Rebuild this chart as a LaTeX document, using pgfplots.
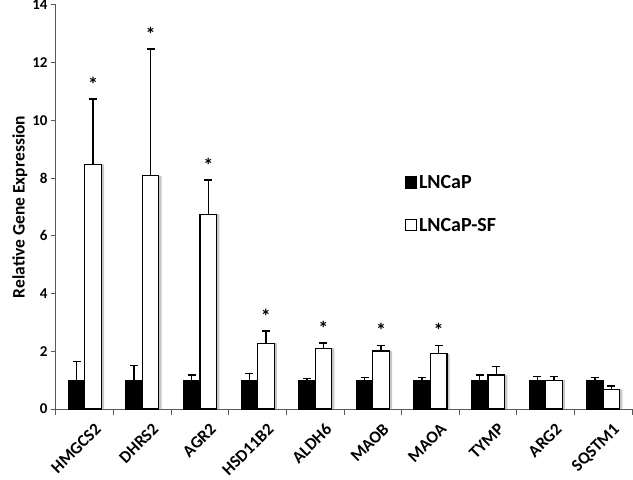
\documentclass[border=0pt]{standalone}
\usepackage{fontspec}
\setmainfont{Carlito}
\usepackage{pgfplots}
\pgfplotsset{compat=1.18}
\begin{document}
\begin{tikzpicture}
\begin{axis}[
  scale only axis, width=576pt, height=404pt,
  xmin=-0.5, xmax=9.5, ymin=0, ymax=14,
  axis x line*=bottom, axis y line*=left,
  axis line style={draw=black!65, line width=1pt},
  ybar, bar width=16.5pt,
  ytick={0,2,...,14},
  /pgf/number format/assume math mode=true,
  y tick label style={font=\bfseries\fontsize{15}{15}\selectfont},
  xtick={0,...,9},
  xticklabels={HMGCS2,DHRS2,AGR2,HSD11B2,ALDH6,MAOB,MAOA,TYMP,ARG2,SQSTM1},
  x tick label style={rotate=45, anchor=north east, font=\bfseries\fontsize{17}{17}\selectfont, xshift=4pt, yshift=-9pt},
  minor xtick={-0.5,0.5,...,9.5},
  major x tick style={draw=none},
  minor x tick style={draw=black!65, line width=1pt},
  y tick style={draw=black!65, line width=1pt},
  tick align=outside,
  major tick length=5pt, minor tick length=6pt,
  ylabel={\bfseries\fontsize{17.5}{17.5}\selectfont Relative Gene Expression},
  ylabel style={yshift=-2pt},
  legend style={at={(0.6,0.588)}, anchor=north west, draw=none, fill=none,
    font=\bfseries\fontsize{20}{20}\selectfont, row sep=24pt},
  legend cell align=left,
  legend image code/.code={\draw[#1, line width=1.2pt] (0pt,-5pt) rectangle (11pt,6pt);},
  error bars/y dir=plus, error bars/y explicit,
  error bars/error bar style={line width=1.4pt, black},
  error bars/error mark options={rotate=90, mark size=4pt, line width=1.4pt, black},
]
\coordinate (bl) at (rel axis cs:0,0);
\coordinate (tr) at (rel axis cs:1,1);
% soft shadows of the bars
\addplot[fill=black!22, draw=none, bar shift=11pt, forget plot]
  coordinates {(0,8.48) (1,8.08) (2,6.75) (3,2.28) (4,2.10) (5,2.01) (6,1.91) (7,1.18) (8,1.00) (9,0.68)};
\addplot[fill=black, draw=black, line width=1.2pt, bar shift=-8.25pt]
  coordinates {
  (0,1) +- (0,0.64)
  (1,1) +- (0,0.51)
  (2,1) +- (0,0.18)
  (3,1) +- (0,0.24)
  (4,1) +- (0,0.05)
  (5,1) +- (0,0.10)
  (6,1) +- (0,0.10)
  (7,1) +- (0,0.18)
  (8,1) +- (0,0.13)
  (9,1) +- (0,0.10)
  };
\addlegendentry{LNCaP}
\addplot[fill=white, draw=black, line width=1.2pt, bar shift=8.25pt]
  coordinates {
  (0,8.48) +- (0,2.26)
  (1,8.08) +- (0,4.39)
  (2,6.75) +- (0,1.18)
  (3,2.28) +- (0,0.42)
  (4,2.10) +- (0,0.19)
  (5,2.01) +- (0,0.20)
  (6,1.91) +- (0,0.30)
  (7,1.18) +- (0,0.30)
  (8,1.00) +- (0,0.13)
  (9,0.68) +- (0,0.12)
  };
\addlegendentry{LNCaP-SF}
\addplot[draw=none, fill=none, bar shift=8.25pt, forget plot,
  nodes near coords={*},
  every node near coord/.append style={font=\bfseries\fontsize{20}{20}\selectfont, anchor=south, yshift=4pt}]
  coordinates {(0,10.74) (1,12.47) (2,7.93) (3,2.70) (4,2.29) (5,2.21) (6,2.21)};
\end{axis}
\pgfresetboundingbox
\path[use as bounding box] ([shift={(-56pt,-71pt)}]bl) rectangle ([shift={(1pt,5pt)}]tr);
\end{tikzpicture}
\end{document}
